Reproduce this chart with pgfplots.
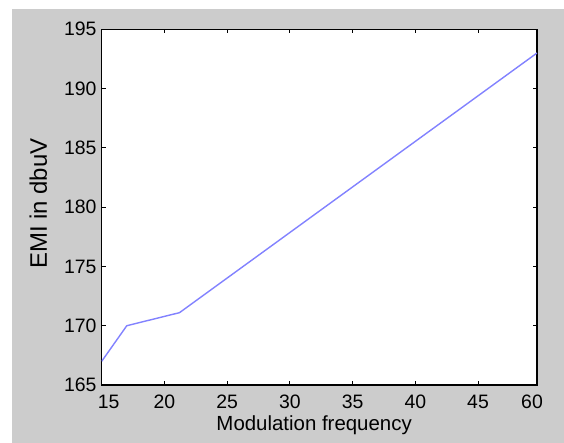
\documentclass[border=0pt]{standalone}
\usepackage{fontspec}
\setmainfont{Liberation Sans}
\usepackage{pgfplots}
\pgfplotsset{compat=1.18}
\definecolor{bggray}{RGB}{204,204,204}
\definecolor{lineblue}{RGB}{130,130,255}
\begin{document}
\begin{tikzpicture}
\useasboundingbox (-101.7bp,-58bp) rectangle (462.3bp,385bp);
\fill[white] (-101.7bp,-58bp) rectangle (462.3bp,385bp);
\fill[bggray] (-89.7bp,-58bp) rectangle (462.3bp,376.3bp);
\begin{axis}[
  scale only axis,
  width=435.3bp, height=355.7bp,
  xmin=15, xmax=49.7, ymin=165, ymax=195,
  xtick={15,20,25,30,35,40,45,49.7},
  xticklabels={\hspace*{14bp}15,20,25,30,35,40,45,60\hspace*{10bp}},
  ytick={165,170,...,195},
  axis background/.style={fill=white},
  axis line style={black, line width=1.4bp},
  tick align=inside,
  major tick length=4bp,
  tick style={black, line width=0.8bp},
  /pgf/number format/assume math mode=true,
  ticklabel style={font=\fontsize{19.5}{20}\selectfont, inner sep=0pt},
  xticklabel style={anchor=base, yshift=-23.3bp},
  yticklabel style={anchor=east, xshift=-5bp},
  xlabel={Modulation frequency},
  ylabel={EMI in dbuV},
  xlabel style={font=\fontsize{20.5}{22}\selectfont, inner sep=0pt, at={(axis description cs:0.488,0)}, anchor=base, yshift=-45bp},
  ylabel style={font=\fontsize{24}{26}\selectfont, inner sep=0pt, at={(axis description cs:-0.1257,0.51)}, anchor=base},
]
\addplot[lineblue, line width=1.4bp] coordinates {
  (15,167) (17,170) (21.2,171.1) (49.7,193)
};
\end{axis}
\end{tikzpicture}
\end{document}
